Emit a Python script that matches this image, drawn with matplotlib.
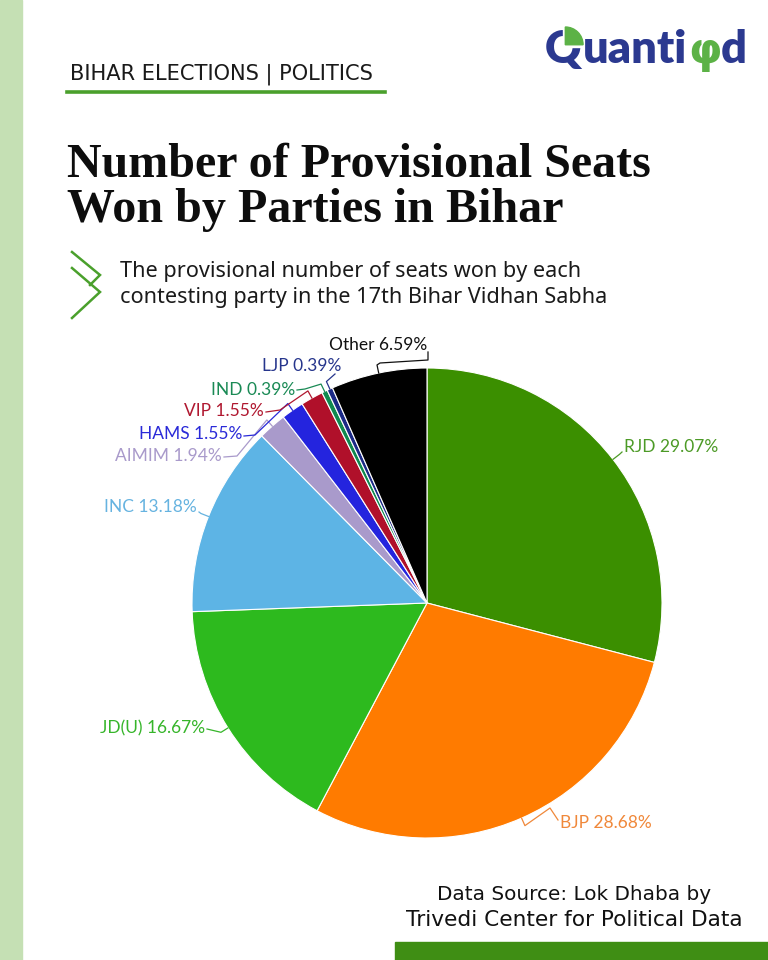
import matplotlib
matplotlib.use("Agg")
import matplotlib.pyplot as plt
from matplotlib.patches import Rectangle, Wedge
from matplotlib.lines import Line2D
import numpy as np

# ---------------- data ----------------
parties = ["RJD", "BJP", "JD(U)", "INC", "AIMIM", "HAMS", "VIP", "IND", "LJP", "Other"]
shares = [29.07, 28.68, 16.67, 13.18, 1.94, 1.55, 1.55, 0.39, 0.39, 6.59]
colors = ["#3b8f00", "#ff7b00", "#2dba1e", "#5db4e5", "#a99acb",
          "#2424de", "#b0102a", "#10894f", "#1b2a86", "#000000"]
label_colors = ["#4c9a26", "#f0883a", "#36b52a", "#66b3e0", "#a99acb",
                "#2a2ad8", "#b01830", "#1a8a55", "#26358c", "#111111"]

title_lines = ["Number of Provisional Seats", "Won by Parties in Bihar"]
subtitle_lines = ["The provisional number of seats won by each",
                  "contesting party in the 17th Bihar Vidhan Sabha"]
header = "BIHAR ELECTIONS | POLITICS"
source_lines = ["Data Source: Lok Dhaba by", "Trivedi Center for Political Data"]

# label layout in pixel space: text anchor x, y, ha, leader via points (text side last)
label_layout = {
    "RJD": (624, 447, "left", [(622, 452)]),
    "BJP": (560, 823, "left", [(550, 808), (558, 820)]),
    "JD(U)": (205, 728, "right", [(207, 729)]),
    "INC": (197, 507, "right", [(199, 512)]),
    "AIMIM": (222, 456, "right", [(237, 456), (224, 457)]),
    "HAMS": (242, 434, "right", [(255, 435), (244, 436)]),
    "VIP": (264, 411, "right", [(280, 410), (266, 412)]),
    "IND": (295, 390, "right", [(305, 389), (297, 390)]),
    "LJP": (341, 366, "right", [(335, 374)]),
    "Other": (378, 345, "center", [(380, 363), (428, 360), (428, 352)]),
}

W, H = 768, 960
fig = plt.figure(figsize=(W / 100, H / 100), dpi=100)
fig.patch.set_facecolor("white")

ov = fig.add_axes([0, 0, 1, 1])
ov.set_xlim(0, W)
ov.set_ylim(H, 0)
ov.axis("off")

# decorations
ov.add_patch(Rectangle((0, 0), 22, H, color="#c5e0b4", zorder=0))
ov.add_patch(Rectangle((395, 942), W - 395, 18, color="#3f8e14", zorder=0))
ov.add_line(Line2D([67, 385], [92, 92], color="#4aa02c", lw=2.6))

renderer = fig.canvas.get_renderer()


def fit(t, target_w):
    bb = t.get_window_extent(renderer=renderer)
    t.set_fontsize(t.get_fontsize() * target_w / bb.width)


def px_x1(t):
    bb = t.get_window_extent(renderer=renderer)
    return ov.transData.inverted().transform((bb.x1, bb.y0))[0]


t = ov.text(70, 74, header, fontsize=15, family="DejaVu Sans", color="#1a1a1a",
            ha="left", va="center")
fit(t, 304)

t1 = ov.text(67, 177, title_lines[0], fontsize=40, family="Liberation Serif",
             weight="bold", color="#0d0d0d", ha="left", va="baseline")
fit(t1, 583)
t2 = ov.text(67, 222, title_lines[1], fontsize=t1.get_fontsize(),
             family="Liberation Serif", weight="bold", color="#0d0d0d",
             ha="left", va="baseline")

s1 = ov.text(120, 272, subtitle_lines[0], fontsize=14, family="Noto Sans",
             color="#1a1a1a", ha="left", va="center")
fit(s1, 461)
s2 = ov.text(120, 298, subtitle_lines[1], fontsize=s1.get_fontsize(),
             family="Noto Sans", color="#1a1a1a", ha="left", va="center")

# chevrons
ov.add_line(Line2D([72, 100, 90], [252, 275, 285], color="#4aa02c", lw=1.8,
                   solid_joinstyle="miter"))
ov.add_line(Line2D([72, 100, 72], [268, 292, 318], color="#4aa02c", lw=1.8,
                   solid_joinstyle="miter"))

# source
src_w = [273, 337]
for i, line in enumerate(source_lines):
    st = ov.text(574, 895 + 25 * i, line, fontsize=13, family="DejaVu Sans",
                 color="#111111", ha="center", va="center")
    fit(st, src_w[i])

# logo
fs_logo = 32.5
base = 63
q = ov.text(545, base, "Q", fontsize=fs_logo, family="Lato", weight="heavy",
            color="#2b3990", ha="left", va="baseline")
rest = ov.text(px_x1(q) + 1, base, "uanti", fontsize=fs_logo, family="Lato",
               weight="heavy", color="#2b3990", ha="left", va="baseline")
phi = ov.text(px_x1(rest) + 1, base, "φ", fontsize=fs_logo * 0.95, family="DejaVu Sans",
              weight="bold", color="#5cb246", ha="left", va="baseline")
dd = ov.text(px_x1(phi) - 1, base, "d", fontsize=fs_logo, family="Lato",
             weight="heavy", color="#2b3990", ha="left", va="baseline")
em = fs_logo * 100 / 72
cap = 0.72 * em
qx1 = px_x1(q)
qcx = 545 + (qx1 - 545) / 2
qcy = base - cap / 2
rq = cap / 2 + 1.5
ov.add_patch(Rectangle((qcx, qcy - rq - 2), qx1 - qcx, rq + 2, color="white", zorder=3))
ov.add_patch(Wedge((qcx + 2, qcy - 2), rq, 270, 360, color="#5cb246", zorder=4))

# ---------------- pie ----------------
cx, cy, R = 427, 603, 235
ax = fig.add_axes([(cx - R) / W, (H - cy - R) / H, 2 * R / W, 2 * R / H])
wedges, _ = ax.pie(shares, colors=colors, startangle=90, counterclock=False,
                   radius=1.0, wedgeprops=dict(edgecolor="white", linewidth=0.8))
ax.set_xlim(-1, 1)
ax.set_ylim(-1, 1)
ax.axis("off")

to_pie = ax.transData.inverted()
for w, name, share, lc in zip(wedges, parties, shares, label_colors):
    mid = np.deg2rad((w.theta1 + w.theta2) / 2)
    px, py, ha, via = label_layout[name]
    ov.text(px, py, f"{name} {share:.2f}%", fontsize=12.5, family="Lato",
            color=lc, ha=ha, va="center")
    xs = [np.cos(mid), 1.035 * np.cos(mid)]
    ys = [np.sin(mid), 1.035 * np.sin(mid)]
    for p in via:
        vx, vy = to_pie.transform(ov.transData.transform(p))
        xs.append(vx)
        ys.append(vy)
    ax.add_line(Line2D(xs, ys, color=lc, lw=0.9, clip_on=False))

fig.savefig("out.png", dpi=100, facecolor="white")
